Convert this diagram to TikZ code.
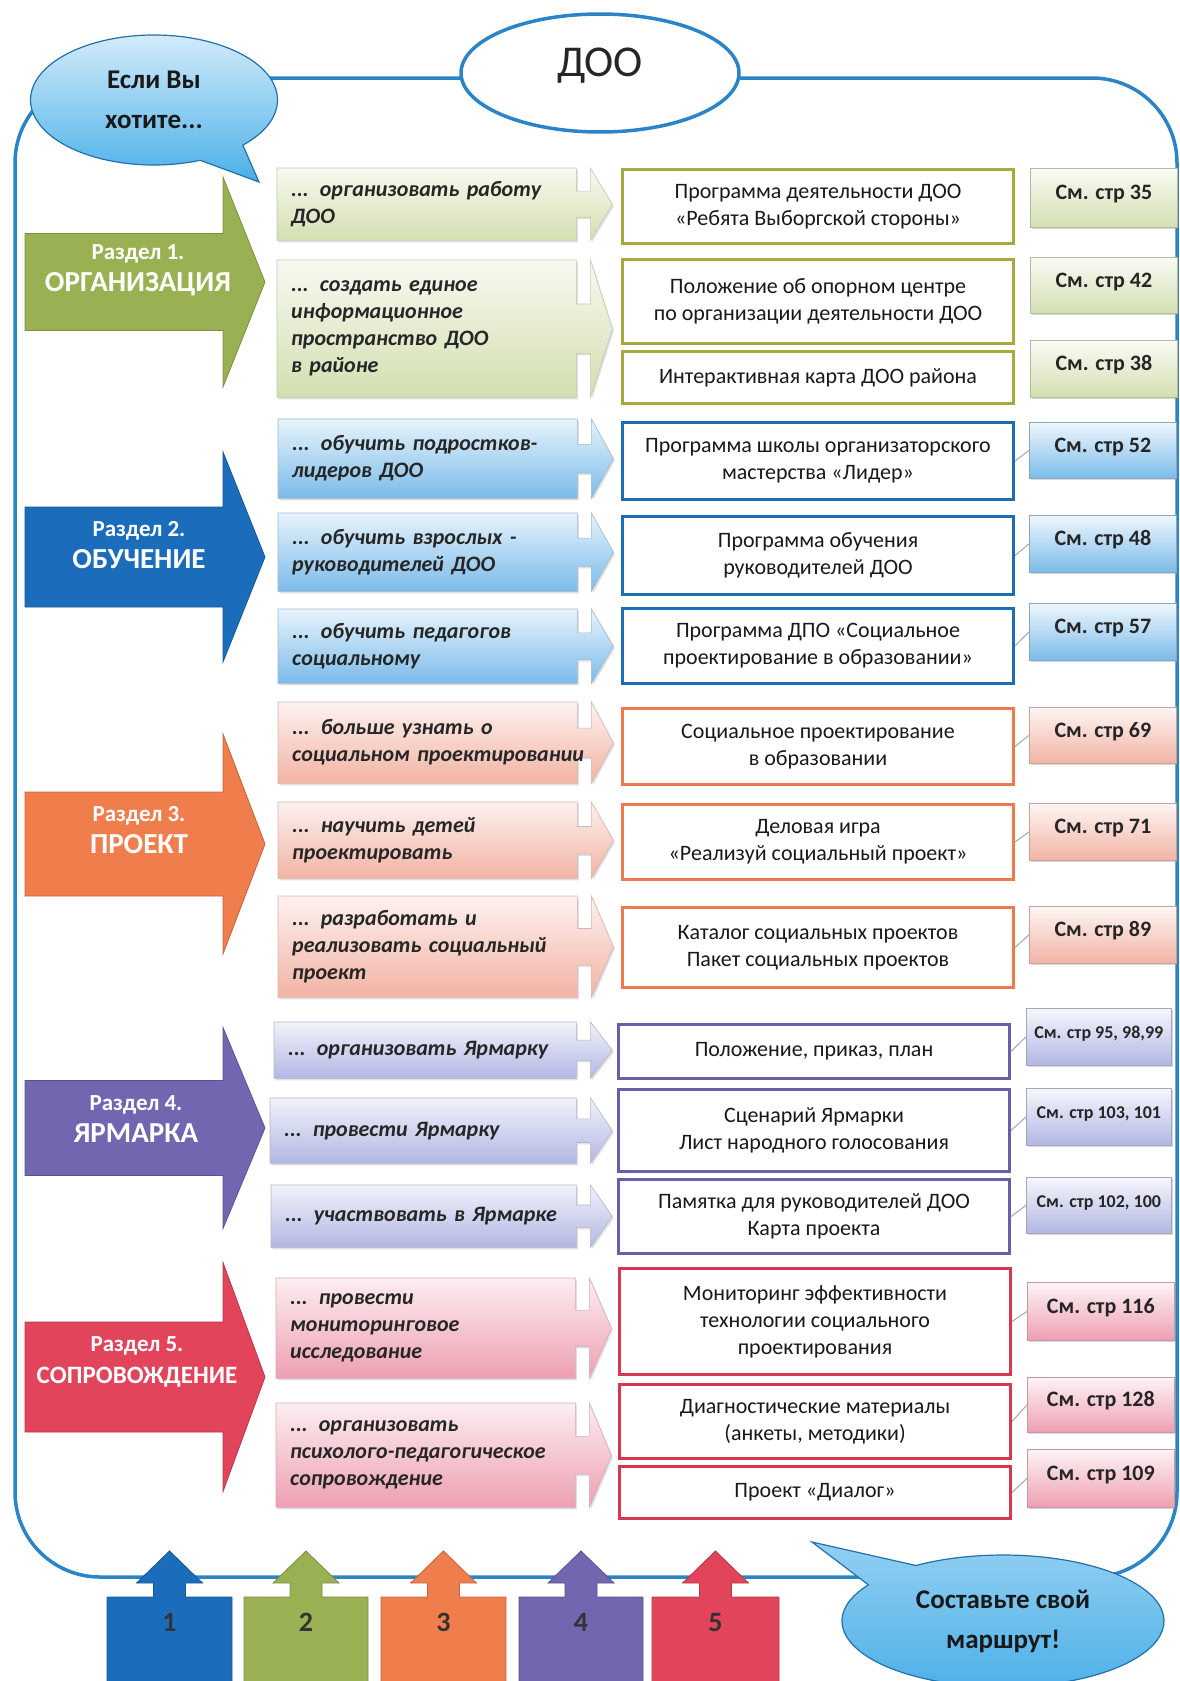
\documentclass[tikz,border=0pt]{standalone}
\usepackage{fontspec}
\setmainfont{Carlito}
\usetikzlibrary{positioning,calc,shapes.geometric,shapes.callouts,shadows,backgrounds}
\definecolor{cFrame}{HTML}{2A84C6}
\definecolor{cSky}{HTML}{4AAFE8}
\definecolor{sOrg}{HTML}{9AB153}
\definecolor{sEdu}{HTML}{1B6DBC}
\definecolor{sPrj}{HTML}{F07E4D}
\definecolor{sFair}{HTML}{7366B1}
\definecolor{sSup}{HTML}{E2455B}
\definecolor{dOrg}{HTML}{A7A83F}
\definecolor{dEdu}{HTML}{1D6CB6}
\definecolor{dPrj}{HTML}{EC7A4A}
\definecolor{dFair}{HTML}{6A5DAB}
\definecolor{dSup}{HTML}{D5374F}
\definecolor{lOrg}{HTML}{D3DFB0}
\definecolor{lEdu}{HTML}{7BBBEA}
\definecolor{lPrj}{HTML}{F2B3A4}
\definecolor{lFair}{HTML}{B2B7E3}
\definecolor{lSup}{HTML}{EE9FB1}
\tikzset{
  frameline/.style={draw=cFrame, line width=3.5pt, rounded corners=85pt},
  bubble/.style={ellipse callout, callout pointer arc=24, draw=cFrame!85!black, line width=1.2pt,
                 top color=cSky!25!white, bottom color=cSky, align=center,
                 font=\fontsize{27}{40}\selectfont\bfseries, text=black!90},
  doo/.style={ellipse, draw=cFrame, line width=3.5pt, fill=white, minimum width=278pt,
              minimum height=118pt, inner sep=0pt, font=\fontsize{44}{50}\selectfont,
              text=black!85, text height=30pt, text depth=24pt},
  secarrow/.style={fill=#1, draw=#1!80!black, line width=0.8pt},
  sectext/.style={align=center, text=white, font=\fontsize{23}{32}\selectfont\bfseries},
  wantbox/.style={anchor=north west, text width=271pt, inner xsep=14pt, inner ysep=1pt, align=left,
                  font=\fontsize{22}{27}\selectfont\bfseries\itshape, text=black!85},
  wantshape/.style={top color=#1!18!white, bottom color=#1, draw=#1!75!black!60, line width=0.6pt,
                    drop shadow={opacity=0.25, shadow xshift=1.5pt, shadow yshift=-2pt}},
  docbox/.style={anchor=north west, draw=#1, line width=3pt, fill=white, minimum width=391pt,
                 inner sep=2pt, align=center, font=\fontsize{22}{27}\selectfont, text=black!90},
  seebox/.style={anchor=north west, minimum width=147pt, inner sep=0pt, draw=#1!70!black!70,
                 line width=0.7pt, top color=#1!12!white, bottom color=#1,
                 font=\fontsize{22}{26}\selectfont\bfseries, text=black!85,
                 text height=14pt, text depth=10pt,
                 drop shadow={opacity=0.3, shadow xshift=1.5pt, shadow yshift=-2pt}},
  seesmall/.style={font=\fontsize{18}{22}\selectfont\bfseries},
  seelink/.style={draw=black!35, line width=1pt},
  numarrow/.style={fill=#1, draw=#1!80!black, line width=0.8pt},
  numtext/.style={font=\fontsize{28}{32}\selectfont\bfseries, text=black!80},
}
\begin{document}
\begin{tikzpicture}[x=1pt, y=-1pt]
\useasboundingbox (0,0) rectangle (1179,1681);
\coordinate (ftl) at (15,78);
\coordinate (fbr) at (1177,1577);

% section arrows
\foreach \yc/\bh/\hh/\col in {282/48.5/105/sOrg, 557/50/105/sEdu, 844/52/110/sPrj,
                               1128/47.5/100.5/sFair, 1377/55/114.5/sSup}
  \filldraw[secarrow=\col] (25,{\yc-\bh}) -- (223,{\yc-\bh}) -- (223,{\yc-\hh}) -- (265,\yc)
    -- (223,{\yc+\hh}) -- (223,{\yc+\bh}) -- (25,{\yc+\bh}) -- cycle;
\node[sectext] (s1) at (138,270) {Раздел 1.\\{\fontsize{29}{32}\selectfont ОРГАНИЗАЦИЯ}};
\node[sectext] (s2) at (139,545) {Раздел 2.\\{\fontsize{29}{32}\selectfont ОБУЧЕНИЕ}};
\node[sectext] (s3) at (139,830) {Раздел 3.\\{\fontsize{29}{32}\selectfont ПРОЕКТ}};
\node[sectext] (s4) at (136,1119) {Раздел 4.\\{\fontsize{29}{32}\selectfont ЯРМАРКА}};
\node[sectext] (s5) at (137,1362) {Раздел 5.\\{\fontsize{25}{32}\selectfont СОПРОВОЖДЕНИЕ}};

% what you want
\node[wantbox, minimum height=72pt] (wA) at (277,168) {... организовать работу\\ДОО};
\node[wantbox, minimum height=137pt] (wB) at (277,260) {... создать единое\\информационное\\пространство ДОО\\в районе};
\node[wantbox, minimum height=79pt] (wC) at (278,419) {... обучить подростков-\\лидеров ДОО};
\node[wantbox, minimum height=78pt] (wD) at (278,513) {... обучить взрослых -\\руководителей ДОО};
\node[wantbox, minimum height=74pt] (wE) at (278,609) {... обучить педагогов\\социальному};
\node[wantbox, minimum height=81pt] (wF) at (278,702) {... больше узнать о\\\mbox{социальном проектировании}};
\node[wantbox, minimum height=76pt] (wG) at (278,802) {... научить детей\\проектировать};
\node[wantbox, minimum height=101pt] (wH) at (278,896) {... разработать и\\\mbox{реализовать социальный}\\проект};
\node[wantbox, minimum height=56pt, text width=274pt] (wI) at (274,1022) {... организовать Ярмарку};
\node[wantbox, minimum height=65pt, text width=278pt] (wJ) at (270,1098) {... провести Ярмарку};
\node[wantbox, minimum height=62pt, text width=277pt] (wK) at (271,1185) {... участвовать в Ярмарке};
\node[wantbox, minimum height=100pt] (wL) at (276,1278) {... провести\\мониторинговое\\исследование};
\node[wantbox, minimum height=104pt] (wM) at (276,1403) {... организовать\\\mbox{психолого-педагогическое}\\сопровождение};

% documents
\node[docbox=dOrg, minimum height=74pt] (dA) at (621,168) {Программа деятельности ДОО\\«Ребята Выборгской стороны»};
\node[docbox=dOrg, minimum height=84pt] (dB) at (621,258) {Положение об опорном центре\\по организации деятельности ДОО};
\node[docbox=dOrg, minimum height=52pt] (dC) at (621,350) {Интерактивная карта ДОО района};
\node[docbox=dEdu, minimum height=77pt] (dD) at (621,421) {Программа школы организаторского\\мастерства «Лидер»};
\node[docbox=dEdu, minimum height=78pt] (dE) at (621,515) {Программа обучения\\руководителей ДОО};
\node[docbox=dEdu, minimum height=75pt] (dF) at (621,607) {Программа ДПО «Социальное\\проектирование в образовании»};
\node[docbox=dPrj, minimum height=76pt] (dG) at (621,707) {Социальное проектирование\\в образовании};
\node[docbox=dPrj, minimum height=75pt] (dH) at (621,803) {Деловая игра\\«Реализуй социальный проект»};
\node[docbox=dPrj, minimum height=80pt] (dI) at (621,906) {Каталог социальных проектов\\Пакет социальных проектов};
\node[docbox=dFair, minimum height=54pt] (dJ) at (617,1023) {Положение, приказ, план};
\node[docbox=dFair, minimum height=82pt] (dK) at (617,1088) {Сценарий Ярмарки\\Лист народного голосования};
\node[docbox=dFair, minimum height=74pt] (dL) at (617,1178) {Памятка для руководителей ДОО\\Карта проекта};
\node[docbox=dSup, minimum height=106pt] (dM) at (618,1267) {Мониторинг эффективности\\технологии социального\\проектирования};
\node[docbox=dSup, minimum height=74pt] (dN) at (618,1383) {Диагностические материалы\\(анкеты, методики)};
\node[docbox=dSup, minimum height=52pt] (dO) at (618,1465) {Проект «Диалог»};

% pages
\node[seebox=lOrg, minimum height=59pt] (p35) at (1030,168) {См. стр 35};
\node[seebox=lOrg, minimum height=56pt] (p42) at (1030,257) {См. стр 42};
\node[seebox=lOrg, minimum height=57pt] (p38) at (1030,340) {См. стр 38};
\node[seebox=lEdu, minimum height=56pt] (p52) at (1029,422) {См. стр 52};
\node[seebox=lEdu, minimum height=57pt] (p48) at (1029,515) {См. стр 48};
\node[seebox=lEdu, minimum height=57pt] (p57) at (1029,603) {См. стр 57};
\node[seebox=lPrj, minimum height=56pt] (p69) at (1029,707) {См. стр 69};
\node[seebox=lPrj, minimum height=57pt] (p71) at (1029,803) {См. стр 71};
\node[seebox=lPrj, minimum height=57pt] (p89) at (1029,906) {См. стр 89};
\node[seebox=lFair, seesmall, minimum height=57pt, minimum width=145pt] (p95) at (1026,1008) {См. стр 95, 98,99};
\node[seebox=lFair, seesmall, minimum height=57pt, minimum width=145pt] (p103) at (1026,1088) {См. стр 103, 101};
\node[seebox=lFair, seesmall, minimum height=56pt, minimum width=145pt] (p102) at (1026,1177) {См. стр 102, 100};
\node[seebox=lSup, minimum height=58pt] (p116) at (1027,1282) {См. стр 116};
\node[seebox=lSup, minimum height=55pt] (p128) at (1027,1377) {См. стр 128};
\node[seebox=lSup, minimum height=58pt] (p109) at (1027,1449) {См. стр 109};

\foreach \a/\b in {dD/p52, dE/p48, dF/p57, dG/p69, dH/p71, dI/p89, dJ/p95, dK/p103,
                   dL/p102, dM/p116, dN/p128, dO/p109}
  \draw[seelink] (\a.east) -- (\b.west);

% route numbers
\foreach \i/\xl/\xr/\col in {1/107/232/sEdu, 2/244/368/sOrg, 3/381/506/sPrj, 4/519/643/sFair, 5/652/779/sSup}{
  \pgfmathsetmacro\cx{(\xl+\xr)/2}
  \filldraw[numarrow=\col] (\xl,1700) -- (\xl,1597) -- ({\cx-16},1597) -- ({\cx-16},1583) -- ({\cx-33},1583)
    -- (\cx,1551) -- ({\cx+33},1583) -- ({\cx+16},1583) -- ({\cx+16},1597) -- (\xr,1597) -- (\xr,1700) -- cycle;
  \node[numtext] (n\i) at (\cx,1622) {\i};
}

\node[doo] (doo) at (600,73) {ДОО};
\node[bubble, minimum width=247pt, minimum height=130pt, callout absolute pointer={(259,182)}] (want) at (154,100) {Если Вы\\хотите...};
\node[bubble, top color=cSky!60!white, minimum width=322pt, minimum height=132pt,
      callout absolute pointer={(812,1542)}] (route) at (1003,1621) {Составьте свой\\маршрут!};

\begin{scope}[on background layer]
  \fill[white] (0,0) rectangle (1179,1681);
  \draw[frameline] (ftl) rectangle (fbr);
  \foreach \w/\col in {wA/lOrg, wB/lOrg, wC/lEdu, wD/lEdu, wE/lEdu, wF/lPrj, wG/lPrj, wH/lPrj,
                       wI/lFair, wJ/lFair, wK/lFair, wL/lSup, wM/lSup}
    \path[wantshape=\col] (\w.north west) -- (\w.north east)
      -- ($(\w.east)!0.36!(\w.north east)$) -- ++(14,0)
      -- ([xshift=14pt]\w.north east) -- ([xshift=36pt]\w.east)
      -- ([xshift=14pt]\w.south east) -- ($(\w.east)!0.36!(\w.south east)+(14,0)$)
      -- ($(\w.east)!0.36!(\w.south east)$) -- (\w.south east) -- (\w.south west) -- cycle;
\end{scope}
\end{tikzpicture}
\end{document}
